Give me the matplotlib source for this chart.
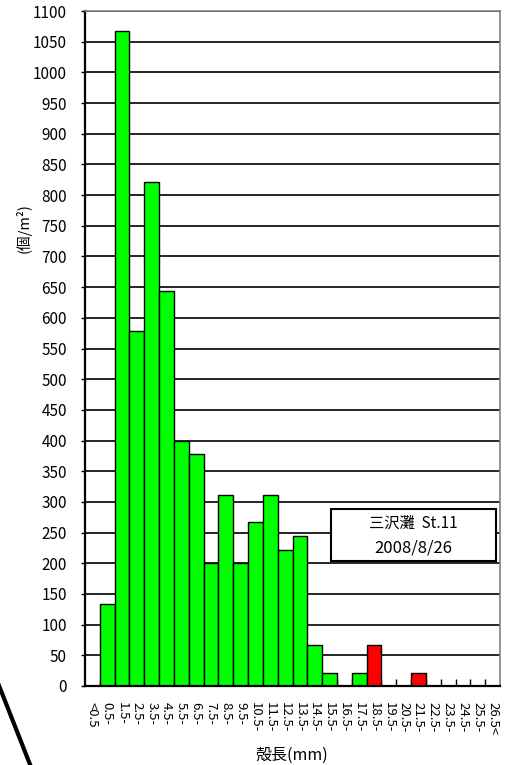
import matplotlib
matplotlib.use("Agg")
import matplotlib.pyplot as plt
from matplotlib.patches import Rectangle
from matplotlib.lines import Line2D

plt.rcParams['font.family'] = ['Noto Sans CJK JP', 'DejaVu Sans']

# 殻長階級 (mm)
size_classes = ['<0.5', '0.5-', '1.5-', '2.5-', '3.5-', '4.5-', '5.5-', '6.5-',
                '7.5-', '8.5-', '9.5-', '10.5-', '11.5-', '12.5-', '13.5-', '14.5-',
                '15.5-', '16.5-', '17.5-', '18.5-', '19.5-', '20.5-', '21.5-', '22.5-',
                '23.5-', '24.5-', '25.5-', '26.5<']
# 個体数密度 (個/m2)
density = [0, 133, 1067, 578, 822, 644, 400, 378, 200, 311, 200, 267, 311, 222,
           244, 67, 22, 0, 22, 67, 0, 0, 22, 0, 0, 0, 0, 0]
# red = 別グループ
is_red = [False] * 28
is_red[19] = True
is_red[22] = True

W, H = 509, 765
fig = plt.figure(figsize=(W / 100, H / 100), dpi=100)
ax = fig.add_axes([85 / W, 1 - 686 / H, 415 / W, 675 / H])

x = list(range(len(size_classes)))
colors = ['#ff0000' if r else '#00ff00' for r in is_red]
ax.bar(x, density, width=1.0, color=colors, edgecolor='black', linewidth=1.0, zorder=2)

ax.set_xlim(-0.5, len(size_classes) - 0.5)
ax.set_ylim(0, 1100)
ax.set_axisbelow(True)

ax.set_yticks(range(0, 1101, 50))
ax.tick_params(axis='y', direction='out', length=3, width=1, pad=10, labelsize=11)
ax.yaxis.grid(True, color='black', linewidth=1.2)

ax.set_xticks(x)
ax.set_xticklabels(size_classes, rotation=270)
ax.tick_params(axis='x', which='major', length=0, pad=11.5, labelsize=9.5)
ax.set_xticks([i + 0.5 for i in x[:-1]], minor=True)
ax.tick_params(axis='x', which='minor', direction='in', length=5, width=1)

for s in ['left', 'bottom']:
    ax.spines[s].set_linewidth(1.6)
    ax.spines[s].set_color('black')
for s in ['top', 'right']:
    ax.spines[s].set_linewidth(1.2)
    ax.spines[s].set_color('#808080')

fig.text(24 / W, 1 - 228 / H, '(個/m²)', rotation=90, ha='center', va='center', fontsize=10.5)
fig.text(292 / W, 1 - 755 / H, '殻長(mm)', ha='center', va='center', fontsize=11.5)

# 地点ラベル
ax.add_patch(Rectangle((0.592, 0.185), 0.398, 0.0766, transform=ax.transAxes,
                       facecolor='white', edgecolor='black', linewidth=1.5, zorder=3))
ax.text(0.79, 0.2415, '三沢灘  St.11', transform=ax.transAxes, ha='center', va='center',
        fontsize=11, zorder=4)
ax.text(0.79, 0.2044, '2008/8/26', transform=ax.transAxes, ha='center', va='center',
        fontsize=12, zorder=4)

fig.add_artist(Line2D([-4 / W, 31 / W], [1 - 678 / H, 1 - 767 / H], color='black',
                      linewidth=3, transform=fig.transFigure))

fig.savefig('out.png', dpi=100)
